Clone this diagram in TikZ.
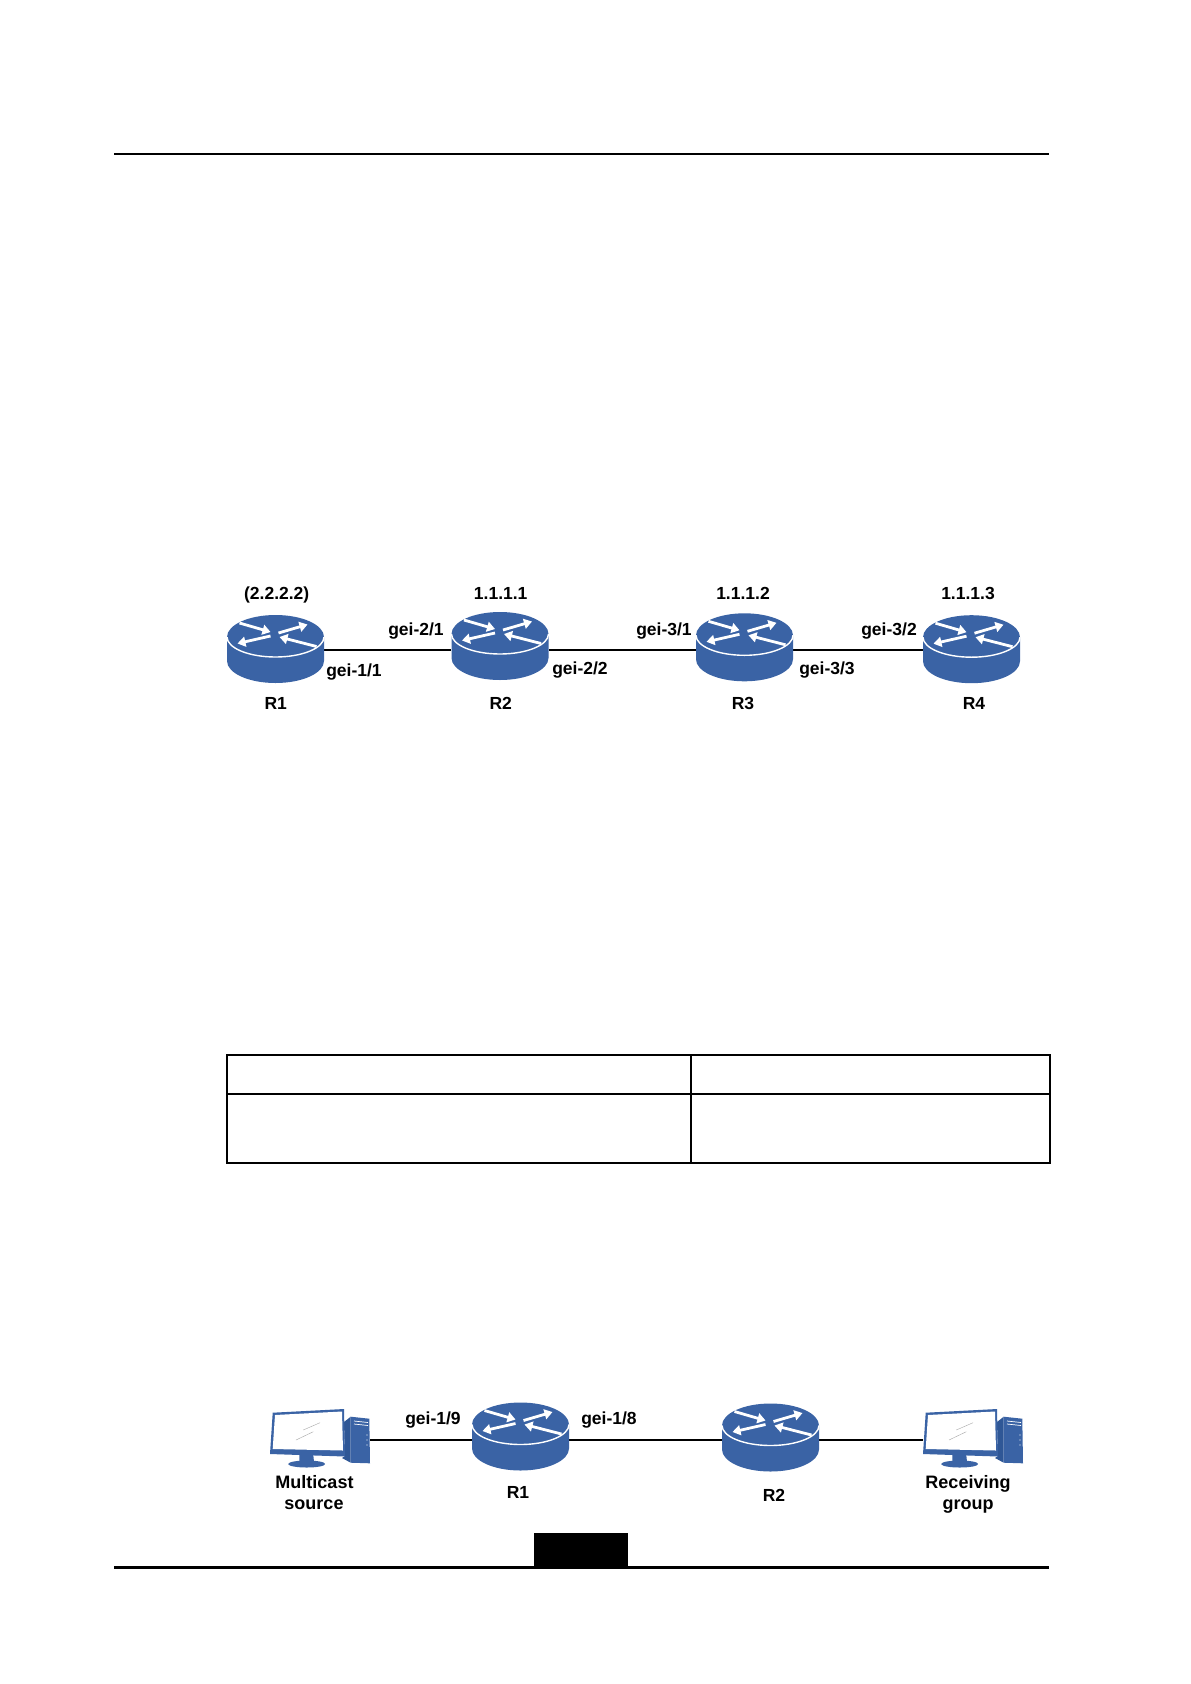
\documentclass[tikz,border=0pt]{standalone}
\usepackage{fontspec}
\setmainfont{Liberation Sans}
\usetikzlibrary{arrows.meta}
\definecolor{netblue}{HTML}{3A63A5}
\definecolor{netdark}{HTML}{2F5796}
\tikzset{
  lbl/.style={inner sep=0pt,font=\fontsize{17.5}{20}\selectfont\bfseries},
  lblbig/.style={inner sep=0pt,font=\fontsize{18}{20}\selectfont\bfseries},
  link/.style={draw=black,line width=2pt},
  anchorbox/.style={inner sep=0pt,minimum width=#1,minimum height=10},
  rule/.style={draw=black,line width=2pt},
  rtarrow/.style={draw=white,line width=2.8pt,-{Triangle[length=8pt,width=10pt]}},
  router/.pic={
    \fill[netblue] (-48.5,-12) arc[start angle=180,end angle=360,x radius=48.5,y radius=22]
      -- (48.5,12) arc[start angle=0,end angle=180,x radius=48.5,y radius=22] -- cycle;
    \draw[white,line width=1.4pt] (-48.5,-12) arc[start angle=180,end angle=0,x radius=48.5,y radius=20];
    \draw[rtarrow] (-36,-26) -- (-5,-17);
    \draw[rtarrow] (3,-16) -- (32,-24.5);
    \draw[rtarrow] (-5,-13) -- (-38,-5.5);
    \draw[rtarrow] (41,-2.5) -- (4,-12);
  },
  computer/.pic={
    \fill[netdark] (100.7,26.7) -- (94,32) -- (95,66) -- (92,68) -- (100.7,72.7) -- cycle;
    \fill[netblue] (100.7,26.7) -- (119.3,28.7) -- (120,73.3) -- (100.7,72.7) -- cycle;
    \draw[white,line width=.7pt] (104,31) -- (118,32.5) (104,34) -- (118,35.5);
    \fill[white] (117,45) circle[radius=.7] (117,50) circle[radius=.7] (117,55) circle[radius=.7];
    \fill[netblue] (49.3,65) -- (63.3,65) -- (64,72) -- (49.3,72) -- cycle;
    \fill[netblue] (56.7,74) ellipse[x radius=18.5,y radius=3.5];
    \fill[netblue] (22.7,22.7) -- (94,19) -- (95,66.5) -- (20,64) -- cycle;
    \fill[white] (25,25) -- (92,21.5) -- (93,60.5) -- (22.7,59) -- cycle;
    \draw[gray!70,line width=.4pt] (53.3,40) -- (70,32.7) (46,50) -- (63.3,41.7);
  }
}
\begin{document}
\begin{tikzpicture}[x=1pt,y=-1pt]
\useasboundingbox (0,0) rectangle (1191,1684);
% page rules
\coordinate (topL) at (114,154); \coordinate (topR) at (1049,154);
\draw[rule] (topL) -- (topR);
\coordinate (botL) at (114,1567); \coordinate (botR) at (1049,1567);
\draw[draw=black,line width=3pt] (botL) -- (botR);
\fill[black] (534,1533) rectangle (628,1567);
% table
\draw[rule] (226.5,1055) rectangle (1050,1163);
\draw[rule] (226.5,1093.5) -- (1050,1093.5);
\draw[rule] (691,1055) -- (691,1163);
% anchors, first figure
\node[anchorbox=97] (a1) at (275.5,650) {};
\node[anchorbox=97] (a2) at (500,650) {};
\node[anchorbox=97] (a3) at (744.5,650) {};
\node[anchorbox=97] (a4) at (971.5,650) {};
\draw[link] (a1.east) -- (a2.west);
\draw[link] (a2.east) -- (a3.west);
\draw[link] (a3.east) -- (a4.west);
\pic at (275.5,649) {router};
\pic at (500,646) {router};
\pic at (744.5,647.3) {router};
\pic at (971.5,649.2) {router};
\node[lbl] (ip1) at (276.7,595) {(2.2.2.2)};
\node[lbl] (ip2) at (500.7,593.5) {1.1.1.1};
\node[lbl] (ip3) at (743,593.5) {1.1.1.2};
\node[lbl] (ip4) at (968,593.5) {1.1.1.3};
\node[lbl] (p21) at (416,631) {gei-2/1};
\node[lbl] (p11) at (354,672.2) {gei-1/1};
\node[lbl] (p22) at (580,670) {gei-2/2};
\node[lbl] (p31) at (664,631) {gei-3/1};
\node[lbl] (p33) at (827,670) {gei-3/3};
\node[lbl] (p32) at (889,631) {gei-3/2};
\node[lbl] (n1) at (275.7,703) {R1};
\node[lbl] (n2) at (500.7,703) {R2};
\node[lbl] (n3) at (743,703) {R3};
\node[lbl] (n4) at (974,703) {R4};
% anchors, second figure
\node[anchorbox=100] (pc1) at (320,1439.7) {};
\node[anchorbox=97] (b1) at (520.5,1439.7) {};
\node[anchorbox=97] (b2) at (770.5,1439.7) {};
\node[anchorbox=100] (pc2) at (973,1439.7) {};
\draw[link] (pc1.east) -- (b1.west);
\draw[link] (b1.east) -- (b2.west);
\draw[link] (b2.east) -- (pc2.west);
\pic at (250,1390) {computer};
\pic at (903,1390) {computer};
\pic at (520.5,1436.5) {router};
\pic at (770.5,1437.5) {router};
\node[lbl] (p19) at (433,1420) {gei-1/9};
\node[lbl] (p18) at (609,1420) {gei-1/8};
\node[lblbig] (ms1) at (314.5,1482) {Multicast};
\node[lblbig] (ms2) at (314,1505) {source};
\node[lblbig] (rg1) at (968,1484) {Receiving};
\node[lblbig] (rg2) at (968,1507) {group};
\node[lbl] (m1) at (518,1492.5) {R1};
\node[lbl] (m2) at (774,1495.5) {R2};
\end{tikzpicture}
\end{document}
